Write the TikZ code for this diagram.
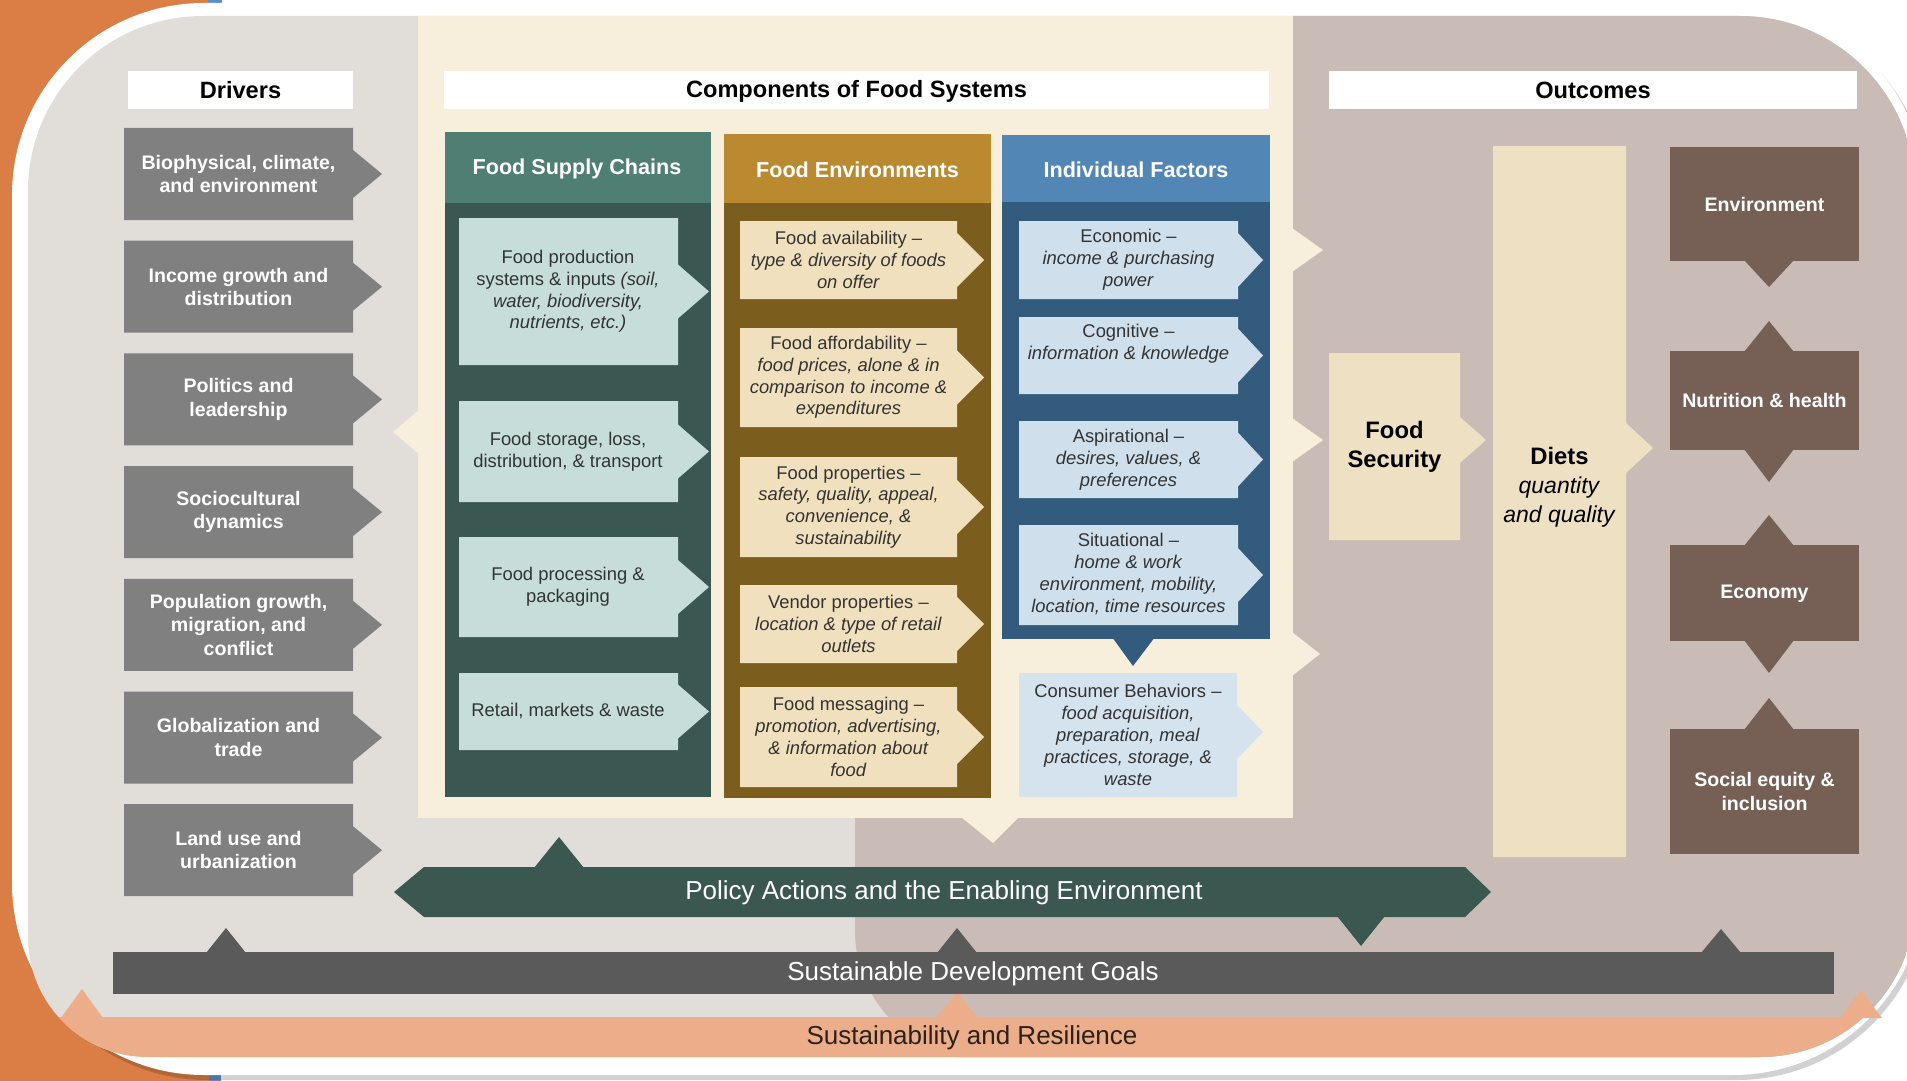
\documentclass[tikz,border=0pt]{standalone}
\usepackage{fontspec}
\setmainfont{Liberation Sans}
\definecolor{orng}{HTML}{DA7E45}
\definecolor{drvbg}{HTML}{E1DDD9}
\definecolor{cmpbg}{HTML}{F7EEDC}
\definecolor{outbg}{HTML}{C9BCB6}
\definecolor{drvbox}{HTML}{808080}
\definecolor{fscH}{HTML}{4F7F72}
\definecolor{fscB}{HTML}{3B5751}
\definecolor{fscI}{HTML}{C6DDD9}
\definecolor{feH}{HTML}{B98A2F}
\definecolor{feB}{HTML}{7B5D1D}
\definecolor{feI}{HTML}{F1E0BD}
\definecolor{ifH}{HTML}{5286B5}
\definecolor{ifB}{HTML}{335B7E}
\definecolor{ifI}{HTML}{CFDFEC}
\definecolor{cbI}{HTML}{D5E3EF}
\definecolor{fsec}{HTML}{EEE0C3}
\definecolor{outbox}{HTML}{765F54}
\definecolor{policy}{HTML}{3A5750}
\definecolor{sdg}{HTML}{5A5A5A}
\definecolor{salmon}{HTML}{ECAE8A}
\definecolor{itmtxt}{HTML}{333333}
\definecolor{sustxt}{HTML}{2B2119}
\definecolor{blu}{HTML}{5B8FC9}
\newcommand\fHdr{\fontsize{11.8pt}{14pt}\selectfont\bfseries}
\newcommand\fCol{\fontsize{10.8pt}{13pt}\selectfont\bfseries}
\newcommand\fDrv{\fontsize{9.8pt}{11.6pt}\selectfont\bfseries}
\newcommand\fItm{\fontsize{9.2pt}{10.9pt}\selectfont}
\newcommand\fBar{\fontsize{13pt}{15pt}\selectfont}
\newcommand\fFS{\fontsize{11.9pt}{12pt}\selectfont}
% arrow box: x1 y1 x2 y2 tipx tipy halfheight colour
\newcommand\abox[8]{%
  \fill[#8] (#1,#2) -- (#3,#2) -- (#3,{#6-#7}) -- (#5,#6) -- (#3,{#6+#7}) -- (#3,#4) -- (#1,#4) -- cycle;}
% triangle: centre x, base y, half width, tip y, colour
\newcommand\trig[5]{%
  \fill[#5] ({#1-#3},#2) -- (#1,#4) -- ({#1+#3},#2) -- cycle;}
\newcommand\panelpath{(28,191) .. controls (28,94.35) and (106.35,16) .. (203,16) -- (1740,16) .. controls (1836.65,16) and (1915,94.35) .. (1915,191) -- (1915,902) .. controls (1915,987.6) and (1845.6,1057) .. (1760,1057) -- (148,1057) .. controls (81.7,1057) and (28,1003.3) .. (28,937) -- cycle}
\tikzset{
  hdrtxt/.style={font=\fHdr,text=black,inner sep=0},
  coltxt/.style={font=\fCol,text=white,inner sep=0},
  drvtxt/.style={font=\fDrv,text=white,align=center,inner sep=0},
  itmtxt/.style={font=\fItm,text=itmtxt,align=center,inner sep=0},
  bartxt/.style={font=\fBar,inner sep=0},
}
\begin{document}
\begin{tikzpicture}[x=0.5pt,y=-0.5pt]
\useasboundingbox (0,0) rectangle (1907,1081);
\fill[white] (0,0) rectangle (1907,1081);
\fill[orng] (0,0) -- (209,0) -- (209,1081) -- (0,1081) -- cycle;
\fill[blu] (208,0) rectangle (222,3);
\fill[blu] (209,1075) rectangle (221,1081);
\fill[black,opacity=0.18,rounded corners=96pt] (15,8) rectangle (1929,1080);
\fill[white,rounded corners=96pt] (12,3) rectangle (1925,1075);
% ---------- panels ----------
\begin{scope}
  \clip \panelpath;
  \fill[drvbg] (0,0) rectangle (1930,1081);
  \fill[outbg] (1293,0) -- (1293,818) -- (855,818) -- (855,930) .. controls (855,1002) and (913,1060) .. (985,1060) -- (1930,1060) -- (1930,0) -- cycle;
  \fill[cmpbg] (418,0) rectangle (1293,818);
  \fill[salmon] (0,1017) rectangle (1930,1081);
\end{scope}
% salmon triangles
\trig{82}{1018}{21}{989}{salmon}
\trig{957}{1018}{21}{992}{salmon}
\trig{1861}{1018}{21}{990}{salmon}
% components panel triangles
\fill[cmpbg] (1292,228) -- (1323,250) -- (1292,272) -- cycle;
\fill[cmpbg] (1292,418) -- (1323,440) -- (1292,462) -- cycle;
\fill[cmpbg] (1292,632) -- (1320,654) -- (1292,676) -- cycle;
\fill[cmpbg] (419,410) -- (393,432) -- (419,454) -- cycle;
\fill[cmpbg] (961,817) -- (993,843) -- (1019,817) -- cycle;
% ---------- headers ----------
\fill[white] (128,71) rectangle (353,109);
\fill[white] (444,71) rectangle (1269,109);
\fill[white] (1329,71) rectangle (1857,109);
\node[hdrtxt] (hdrv) at (240.5,90) {Drivers};
\node[hdrtxt] (hcmp) at (856.5,91) {Components of Food Systems};
\node[hdrtxt] (hout) at (1593,90) {Outcomes};
% ---------- drivers ----------
\abox{124}{128}{353}{220}{382}{174}{24}{drvbox}
\abox{124}{240.7}{353}{332.7}{382}{286.7}{24}{drvbox}
\abox{124}{353.4}{353}{445.4}{382}{399.4}{24}{drvbox}
\abox{124}{466.1}{353}{558.1}{382}{512.1}{24}{drvbox}
\abox{124}{578.8}{353}{670.8}{382}{624.8}{24}{drvbox}
\abox{124}{691.5}{353}{783.5}{382}{737.5}{24}{drvbox}
\abox{124}{804.2}{353}{896.2}{382}{850.2}{24}{drvbox}
\node[drvtxt] (d1) at (238.5,174) {Biophysical, climate,\\and environment};
\node[drvtxt] (d2) at (238.5,286.7) {Income growth and\\distribution};
\node[drvtxt] (d3) at (238.5,399.4) {Politics and\\leadership};
\node[drvtxt] (d4) at (238.5,512.1) {Sociocultural\\dynamics};
\node[drvtxt] (d5) at (238.5,624.8) {Population growth,\\migration, and\\conflict};
\node[drvtxt] (d6) at (238.5,737.5) {Globalization and\\trade};
\node[drvtxt] (d7) at (238.5,850.2) {Land use and\\urbanization};
% ---------- column 1 ----------
\fill[fscB] (445,200) rectangle (711,797);
\fill[fscH] (445,132) rectangle (711,203);
\node[coltxt] (c1h) at (577,169) {Food Supply Chains};
\abox{459}{218}{678}{365}{709}{291.5}{27}{fscI}
\abox{459}{401}{678}{502}{709}{451.5}{27}{fscI}
\abox{459}{537}{678}{637}{709}{587}{27}{fscI}
\abox{459}{673}{678}{750}{709}{711.5}{27}{fscI}
\node[itmtxt] (c1a) at (568,291.5) {Food production\\systems \& inputs \textit{(soil,}\\\textit{water, biodiversity,}\\\textit{nutrients, etc.)}};
\node[itmtxt] (c1b) at (568,451.5) {Food storage, loss,\\distribution, \& transport};
\node[itmtxt] (c1c) at (568,587) {Food processing \&\\packaging};
\node[itmtxt] (c1d) at (568,711.5) {Retail, markets \& waste};
% ---------- column 2 ----------
\fill[feB] (724,200) rectangle (991,798);
\fill[feH] (724,134) rectangle (991,203);
\node[coltxt] (c2h) at (857.5,170) {Food Environments};
\abox{740}{221}{957}{299}{984}{260}{27}{feI}
\abox{740}{328}{957}{427}{984}{377.5}{27}{feI}
\abox{740}{457}{957}{557}{984}{507}{27}{feI}
\abox{740}{585}{957}{663}{984}{624}{27}{feI}
\abox{740}{687}{957}{787}{984}{737}{27}{feI}
\node[itmtxt] (c2a) at (848.5,260) {Food availability –\\\textit{type \& diversity of foods}\\\textit{on offer}};
\node[itmtxt] (c2b) at (848.5,377.5) {Food affordability –\\\textit{food prices, alone \& in}\\\textit{comparison to income \&}\\\textit{expenditures}};
\node[itmtxt] (c2c) at (848.5,507) {Food properties –\\\textit{safety, quality, appeal,}\\\textit{convenience, \&}\\\textit{sustainability}};
\node[itmtxt] (c2d) at (848.5,624) {Vendor properties –\\\textit{location \& type of retail}\\\textit{outlets}};
\node[itmtxt] (c2e) at (848.5,737) {Food messaging –\\\textit{promotion, advertising,}\\\textit{\& information about}\\\textit{food}};
% ---------- column 3 ----------
\fill[ifB] (1002,200) rectangle (1270,639);
\fill[ifH] (1002,135) rectangle (1270,202);
\fill[ifB] (1112,637) -- (1133,666) -- (1155,637) -- cycle;
\node[coltxt] (c3h) at (1136,170) {Individual Factors};
\abox{1019}{221}{1238}{299}{1263}{260}{27}{ifI}
\abox{1019}{317}{1238}{394}{1263}{355.5}{27}{ifI}
\abox{1019}{421}{1238}{498}{1263}{459.5}{27}{ifI}
\abox{1019}{525}{1238}{625}{1263}{575}{27}{ifI}
\abox{1019}{673}{1237}{797}{1263}{732}{27}{cbI}
\node[itmtxt] (c3a) at (1128.5,260) {Economic –\\\textit{income \& purchasing}\\\textit{power}};
\node[itmtxt] (c3b) at (1128.5,344) {Cognitive –\\\textit{information \& knowledge}};
\node[itmtxt] (c3c) at (1128.5,459.5) {Aspirational –\\\textit{desires, values, \&}\\\textit{preferences}};
\node[itmtxt] (c3d) at (1128.5,574) {Situational –\\\textit{home \& work}\\\textit{environment, mobility,}\\\textit{location, time resources}};
\node[itmtxt] (c3e) at (1128,735) {Consumer Behaviors –\\\textit{food acquisition,}\\\textit{preparation, meal}\\\textit{practices, storage, \&}\\\textit{waste}};
% ---------- outcomes ----------
\abox{1329}{353}{1460}{540}{1486}{440}{23}{fsec}
\abox{1493}{146}{1626}{857}{1653}{448}{25}{fsec}
\node[font=\fontsize{11.9pt}{14.5pt}\selectfont\bfseries,align=center,inner sep=0] (fs) at (1394.5,447) {Food\\Security};
\node[font=\fontsize{11.5pt}{14.5pt}\selectfont,align=center,inner sep=0] (diets) at (1559.5,487) {{\fFS\bfseries Diets}\\\textit{quantity}\\\textit{and quality}};
\fill[outbox] (1670,147) rectangle (1859,261);
\fill[outbox] (1670,351) rectangle (1859,450);
\fill[outbox] (1670,545) rectangle (1859,641);
\fill[outbox] (1670,729) rectangle (1859,854);
\trig{1769}{260}{25}{287}{outbox}
\trig{1769}{352}{25}{321}{outbox}
\trig{1769}{449}{25}{482}{outbox}
\trig{1769}{546}{25}{515}{outbox}
\trig{1769}{640}{25}{673}{outbox}
\trig{1769}{730}{25}{698}{outbox}
\node[drvtxt] (o1) at (1764.5,204) {Environment};
\node[drvtxt] (o2) at (1764.5,400.5) {Nutrition \& health};
\node[drvtxt] (o3) at (1764.5,594) {Economy};
\node[drvtxt] (o4) at (1764.5,791.5) {Social equity \&\\inclusion};
% ---------- bottom bars ----------
\fill[policy] (424,867) -- (1465,867) -- (1491,892) -- (1465,917) -- (424,917) -- (394,892) -- cycle;
\trig{559}{868}{25}{837}{policy}
\trig{1361}{916}{24}{946}{policy}
\node[bartxt,text=white] (pol) at (944,893) {Policy Actions and the Enabling Environment};
\fill[sdg] (113,952) rectangle (1834,994);
\trig{226}{953}{20}{928}{sdg}
\trig{957}{953}{20}{928}{sdg}
\trig{1721}{953}{20}{929}{sdg}
\node[bartxt,text=white] (sdgt) at (973,974) {Sustainable Development Goals};
\node[bartxt,text=sustxt] (sust) at (972,1038) {Sustainability and Resilience};
\end{tikzpicture}
\end{document}
